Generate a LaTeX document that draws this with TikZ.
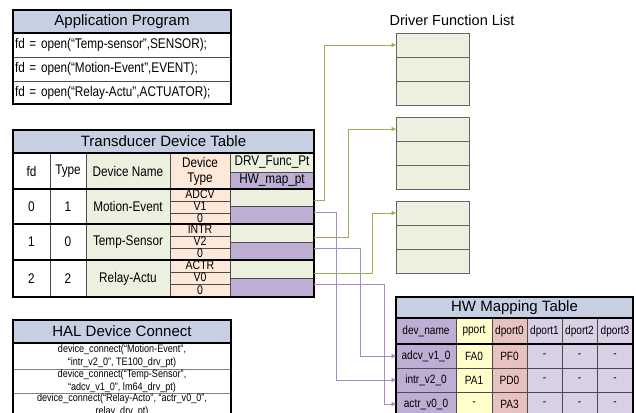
\documentclass[tikz,border=0pt]{standalone}
\usepackage{fontspec}
\setmainfont{Liberation Sans}
\newfontfamily\narrowfont{Liberation Sans}[FakeStretch=0.84]
\usetikzlibrary{arrows.meta}

\definecolor{hdrblue}{HTML}{C6D0E2}
\definecolor{namegreen}{HTML}{EBF1DE}
\definecolor{typepeach}{HTML}{FDE9D9}
\definecolor{mappurple}{HTML}{BFAED3}
\definecolor{portyellow}{HTML}{FFFFCC}
\definecolor{portpink}{HTML}{E8C2C1}
\definecolor{portlilac}{HTML}{D9D0E6}
\definecolor{linkgreen}{HTML}{92B552}
\definecolor{linkpurple}{HTML}{A68BCB}

\newcommand{\titlesize}{\fontsize{15}{18}\selectfont}
\newcommand{\halsize}{\narrowfont\fontsize{10.8}{13}\selectfont}

% table cell: [options] name, x1, y1, x2, y2, fill, text
\newcommand{\tcell}[8][]{%
  \node[cellbox, fill=#7, minimum width={(#5)-(#3)}, minimum height={(#6)-(#4)}, #1]
    (#2) at ({((#3)+(#5))/2},{((#4)+(#6))/2}) {#8};}

\begin{document}
\begin{tikzpicture}[x=1pt, y=-1pt,
    cellbox/.style={draw=black!70, line width=0.6pt, inner sep=0pt, outer sep=0pt,
      font=\narrowfont\fontsize{14}{15}\selectfont},
    leftcell/.style={align=left, text width=214pt, inner xsep=2pt},
    subrow/.style={text height=7.5pt, text depth=0pt, font=\narrowfont\fontsize{12.5}{13}\selectfont},
    hwcell/.style={font=\narrowfont\fontsize{12}{14}\selectfont},
    halcell/.style={align=center, font=\halsize, draw=black!50},
    drvcell/.style={draw=black!60},
    tableframe/.style={line width=1.6pt, black},
    drvlink/.style={linkgreen, line width=0.9pt, -{Triangle[length=4.5pt,width=4pt]}},
    maplink/.style={linkpurple, line width=0.9pt, -{Triangle[length=4.5pt,width=4pt]}}]

    \useasboundingbox (0,0) rectangle (636,412);
    \clip (0,0) rectangle (636,412);

    % application program
    \tcell{apptitle}{13}{10}{231}{33}{hdrblue}{\normalfont\titlesize Application Program}
    \tcell[leftcell]{app1}{13}{33}{231}{57}{white}{fd = open(“Temp-sensor”,SENSOR);}
    \tcell[leftcell]{app2}{13}{57}{231}{81}{white}{fd = open(“Motion-Event”,EVENT);}
    \tcell[leftcell]{app3}{13}{81}{231}{104}{white}{fd = open(“Relay-Actu”,ACTUATOR);}
    \draw[tableframe] (apptitle.north west) rectangle (app3.south east);
    \draw[tableframe] (apptitle.south west) -- (apptitle.south east);

    % transducer device table
    \tcell{tdtitle}{13}{130}{314}{153}{hdrblue}{\normalfont\titlesize Transducer Device Table}
    \tcell{hfd}{13}{153}{50}{189}{white}{fd}
    \tcell{htype}{50}{153}{86}{189}{white}{Type}
    \tcell{hname}{86}{153}{170}{189}{namegreen}{Device Name}
    \tcell[align=center]{hdtype}{170}{153}{230}{189}{typepeach}{Device\\Type}
    \tcell{hdrv}{230}{153}{314}{172}{namegreen}{DRV\_Func\_Pt}
    \tcell{hmap}{230}{172}{314}{189}{mappurple}{HW\_map\_pt}
    \foreach \i/\fd/\ty/\dev/\da/\db/\t/\b in {1/0/1/Motion-Event/ADCV/V1/189/224,
        2/1/0/Temp-Sensor/INTR/V2/224/260, 3/2/2/Relay-Actu/ACTR/V0/260/297}{
      \tcell{fd\i}{13}{\t}{50}{\b}{white}{\fd}
      \tcell{ty\i}{50}{\t}{86}{\b}{white}{\ty}
      \tcell{dev\i}{86}{\t}{170}{\b}{namegreen}{\dev}
      \tcell[subrow]{dta\i}{170}{\t}{230}{\t+12}{typepeach}{\da}
      \tcell[subrow]{dtb\i}{170}{\t+12}{230}{\t+24}{typepeach}{\db}
      \tcell[subrow]{dtc\i}{170}{\t+24}{230}{\b}{typepeach}{0}
      \tcell{g\i}{230}{\t}{314}{(\t+\b)/2}{namegreen}{}
      \tcell{p\i}{230}{(\t+\b)/2}{314}{\b}{mappurple}{}
    }
    \draw[tableframe] (tdtitle.north west) rectangle (p3.south east);
    \foreach \n in {tdtitle, hfd, fd1, fd2}{
      \draw[tableframe] (\n.south west) -- (\n.south west -| p3.east);
    }

    % driver function list
    \node[font=\fontsize{14.5}{17}\selectfont] (drvtitle) at (452,20) {Driver Function List};
    \foreach \j/\t in {1/33, 2/117, 3/201}{
      \foreach \k/\r in {0/a, 1/b, 2/c}{
        \tcell[drvcell]{drv\j\r}{396}{\t+\k*24}{469}{\t+\k*24+24}{namegreen}{}
      }
    }

    % hw mapping table
    \tcell{hwtitle}{396}{297}{633}{318}{hdrblue}{\normalfont\titlesize HW Mapping Table}
    \tcell[hwcell]{hwname}{396}{318}{456}{344}{mappurple}{dev\_name}
    \tcell[hwcell]{hwpport}{456}{318}{492}{344}{portyellow}{pport}
    \tcell[hwcell]{hwd0}{492}{318}{527}{344}{portpink}{dport0}
    \foreach \c/\xa/\xb in {1/527/562, 2/562/597, 3/597/633}{
      \tcell[hwcell]{hwd\c}{\xa}{318}{\xb}{344}{portlilac}{dport\c}
    }
    \foreach \n/\dn/\pp/\dz/\t in {adcv/adcv\_v1\_0/FA0/PF0/344,
        intr/intr\_v2\_0/PA1/PD0/368, actr/actr\_v0\_0/-/PA3/392}{
      \tcell[hwcell]{hw\n}{396}{\t}{456}{\t+24}{mappurple}{\dn}
      \tcell[hwcell]{pp\n}{456}{\t}{492}{\t+24}{portyellow}{\pp}
      \tcell[hwcell]{dz\n}{492}{\t}{527}{\t+24}{portpink}{\dz}
      \foreach \c/\xa/\xb in {1/527/562, 2/562/597, 3/597/633}{
        \tcell[hwcell]{d\c\n}{\xa}{\t}{\xb}{\t+24}{portlilac}{-}
      }
    }
    \draw[tableframe] (hwtitle.north west) rectangle (d3actr.south east);
    \draw[tableframe] (hwtitle.south west) -- (hwtitle.south east);
    \draw[tableframe] (hwname.south west) -- (hwname.south west -| hwd3.east);

    % hal device connect
    \tcell{haltitle}{13}{320}{231}{343}{hdrblue}{\normalfont\titlesize HAL Device Connect}
    \tcell[halcell]{hal1}{13}{343}{231}{369}{white}{device\_connect(“Motion-Event”,\\“intr\_v2\_0”, TE100\_drv\_pt)}
    \tcell[halcell]{hal2}{13}{369}{231}{394}{white}{device\_connect(“Temp-Sensor”,\\“adcv\_v1\_0”, lm64\_drv\_pt)}
    \tcell[halcell]{hal3}{13}{394}{231}{416}{white}{device\_connect(“Relay-Acto”, “actr\_v0\_0”,\\relay\_drv\_pt)}
    \draw[tableframe] (haltitle.north west) rectangle (hal3.south east);
    \draw[tableframe] (haltitle.south west) -- (haltitle.south east);

    % pointers to the hw map
    \draw[maplink] ([yshift=2.5pt]p1.east) -- ++(22,0) |- (hwintr.west);
    \draw[maplink] ([yshift=3pt]p2.east) -- ++(46,0) |- (hwadcv.west);
    \draw[maplink] ([yshift=3.5pt]p3.east) -- ++(70,0) |- (hwactr.west);
    % pointers to the driver functions
    \draw[drvlink] ([yshift=-3pt]g1.east) -- ++(10,0) |- (drv1a.west);
    \draw[drvlink] ([yshift=-4pt]g2.east) -- ++(34,0) |- (drv2a.west);
    \draw[drvlink] ([yshift=-4pt]g3.east) -- ++(58,0) |- (drv3a.west);
\end{tikzpicture}
\end{document}
